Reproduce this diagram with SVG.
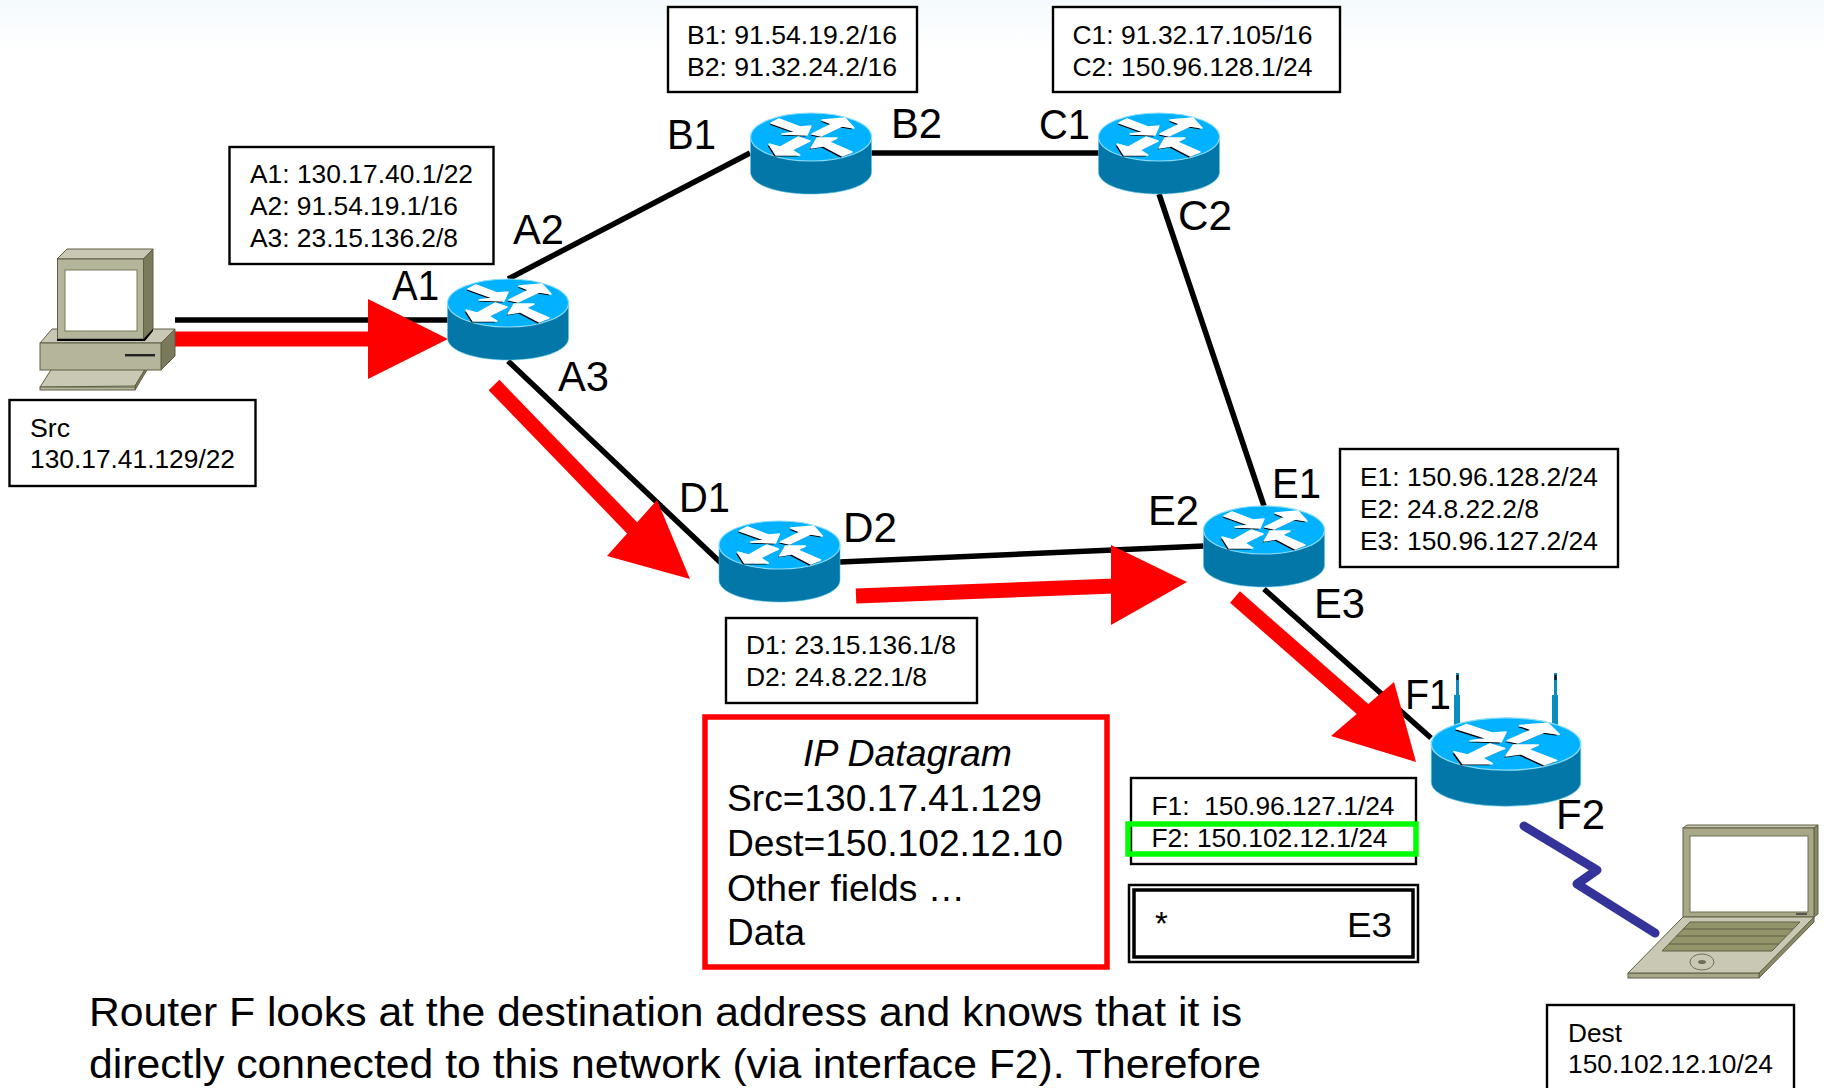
<svg xmlns="http://www.w3.org/2000/svg" xmlns:xlink="http://www.w3.org/1999/xlink" width="1824" height="1088" viewBox="0 0 1824 1088">
<style>
text{font-family:"Liberation Sans",Arial,sans-serif;fill:#000;white-space:pre}
.t{font-size:25.500px}
.p{font-size:42px}
.d{font-size:37px}
.b{font-size:41px}
.box{fill:#fff;stroke:#000;stroke-width:2.400}
.lnk{stroke:#000;stroke-width:5.500;fill:none}
.red{stroke:#f00;stroke-width:15;fill:none}
.hd{fill:#f00}
.tan{stroke:#5f5f45;stroke-width:1}
.aw{stroke:#fff;stroke-width:1.400;stroke-linejoin:round}
</style>
<defs>
<linearGradient id="bg" x1="0" y1="0" x2="0" y2="1"><stop offset="0" stop-color="#f4fafd"/><stop offset="1" stop-color="#fff"/></linearGradient>
<g id="arrows">
<polygon points="-40,-14 -32,-18 -11,-10 0,-11 -4,-2 -29,-3 -15,-5"/>
<polygon points="1,-3 21,-13 11,-17 34,-19 43,-9 31,-11 10,-1"/>
<polygon points="-13,0 -1,4 -19,13 -11,18 -35,18 -42,7 -31,10"/>
<polygon points="0,11 6,1 26,1 18,5 41,15 31,19 12,9"/>
</g>
<g id="router">
<path d="M-60.500 0V35C-60.500 48 -33 57 0 57S60.500 48 60.500 35V0Z" fill="#0277a8" stroke="#5cc4ea" stroke-width=".6"/>
<ellipse rx="60.500" ry="24" fill="#00b2ff" stroke="#8adcf8" stroke-width="1.200"/>
<use href="#arrows" x="-1.500" y="1.500" fill="#000"/>
<use href="#arrows" class="aw" fill="#fff"/>
</g>
</defs>
<rect width="1824" height="1088" fill="#fff"/>
<rect width="1824" height="50" fill="url(#bg)"/>

<g id="connectors">
<line class="lnk" x1="175" y1="320" x2="448" y2="320"/>
<line class="lnk" x1="508" y1="279" x2="750" y2="153"/>
<line class="lnk" x1="870" y1="153" x2="1099" y2="153"/>
<line class="lnk" x1="1159" y1="194" x2="1264" y2="506"/>
<line class="lnk" x1="508" y1="361" x2="721" y2="563"/>
<line class="lnk" x1="840" y1="562" x2="1204" y2="546"/>
<line class="lnk" x1="1264" y1="589" x2="1431" y2="738"/>
<polyline points="1524,826 1597,870 1577,884 1655,933" fill="none" stroke="#333399" stroke-width="9" stroke-linecap="round" stroke-linejoin="round"/>
<line class="red" x1="175" y1="339" x2="370" y2="339"/>
<polygon class="hd" points="368,299 448,339 368,379"/>
<line class="red" x1="494" y1="385" x2="640" y2="536"/>
<polygon class="hd" points="607,556 657,500 690,579"/>
<line class="red" x1="856" y1="596" x2="1115" y2="586"/>
<polygon class="hd" points="1111,545 1187,582 1111,625"/>
<line class="red" x1="1235" y1="597" x2="1366" y2="712"/>
<polygon class="hd" points="1331,736 1394,682 1416,762"/>
</g>

<g id="router-a"><use href="#router" x="508" y="303"/></g>
<g id="router-b"><use href="#router" x="811" y="137"/></g>
<g id="router-c"><use href="#router" x="1159" y="137"/></g>
<g id="router-d"><use href="#router" x="779.500" y="545"/></g>
<g id="router-e"><use href="#router" x="1264" y="530"/></g>
<g id="router-f">
<g fill="#0a8cc0">
<rect x="1454" y="695" width="6" height="30"/><rect x="1456" y="673" width="3" height="22"/>
<rect x="1552" y="695" width="6" height="30"/><rect x="1554" y="673" width="3" height="22"/>
</g>
<rect x="1456.500" y="675" width="2" height="5" fill="#000"/><rect x="1554.500" y="675" width="2" height="5" fill="#000"/>
<g transform="translate(1506 744) scale(1.235 1.09)"><use href="#router"/></g>
</g>

<g id="src-pc">
<polygon class="tan" points="40,387 53.500,366 147,366 135,386" fill="#c8c8b4"/>
<polygon class="tan" points="135,386 147,366 147,370 135,390" fill="#7b7b5c"/>
<rect class="tan" x="40" y="387" width="95" height="3" fill="#b5b59b"/>
<polygon class="tan" points="40,343 52,329 175,329 161,343" fill="#c8c8b4"/>
<polygon class="tan" points="161,343 175,329 175,356 161,370" fill="#7b7b5c"/>
<rect class="tan" x="40" y="343" width="121" height="27" fill="#b5b59b"/>
<rect x="125" y="354" width="30" height="2.400" fill="#222"/>
<polygon class="tan" points="57,259 67,249 153,249 143.500,259" fill="#c8c8b4"/>
<polygon class="tan" points="143.500,259 153,249 153,329 143.500,339" fill="#7b7b5c"/>
<rect class="tan" x="57.500" y="259" width="86" height="80" fill="#b5b59b"/>
<rect x="65" y="270" width="72" height="61" fill="#fff" stroke="#7b7b5c"/>
<polygon points="57,339 143.500,339 153,329 153,331 145,341 57,341" fill="#000"/>
</g>

<g id="dest-laptop">
<polygon class="tan" points="1683,828 1687,825 1818,825 1814,828" fill="#c8c8b4"/>
<polygon class="tan" points="1814,828 1818,825 1818,914 1814,917" fill="#8a8a68"/>
<rect class="tan" x="1683" y="828" width="131" height="89" fill="#a8a888"/>
<rect x="1690" y="836" width="118" height="76" fill="#fff" stroke="#6f6f55"/>
<rect x="1796" y="913" width="11" height="2" fill="#555"/>
<polygon class="tan" points="1814,917 1814,922 1759,978 1759,973" fill="#8a8a68"/>
<rect class="tan" x="1628" y="973" width="131" height="5" fill="#a8a888"/>
<polygon class="tan" points="1683,917 1814,917 1759,973 1628,973" fill="#c8c8b4"/>
<polygon class="tan" points="1690,922 1800,922 1772,951 1662,951" fill="#94946a"/>
<path class="tan" d="M1683,929H1793M1676,936H1786M1669,944H1779" fill="none"/>
<ellipse cx="1702" cy="962" rx="12" ry="8" fill="none" stroke="#6f6f55"/>
<ellipse cx="1702" cy="962" rx="4" ry="2" fill="#6f6f55"/>
</g>

<g id="box-src"><rect class="box" x="9.500" y="400" width="246" height="86"/>
<text class="t" x="30" y="437" textLength="40" lengthAdjust="spacingAndGlyphs">Src</text>
<text class="t" x="30" y="468" textLength="205" lengthAdjust="spacingAndGlyphs">130.17.41.129/22</text></g>
<g id="box-a"><rect class="box" x="229.500" y="147" width="264" height="117"/>
<text class="t" x="250" y="183" textLength="223" lengthAdjust="spacingAndGlyphs">A1: 130.17.40.1/22</text>
<text class="t" x="250" y="215" textLength="208" lengthAdjust="spacingAndGlyphs">A2: 91.54.19.1/16</text>
<text class="t" x="250" y="247" textLength="208" lengthAdjust="spacingAndGlyphs">A3: 23.15.136.2/8</text></g>
<g id="box-b"><rect class="box" x="668" y="7" width="249" height="85"/>
<text class="t" x="687" y="44" textLength="210" lengthAdjust="spacingAndGlyphs">B1: 91.54.19.2/16</text>
<text class="t" x="687" y="76" textLength="210" lengthAdjust="spacingAndGlyphs">B2: 91.32.24.2/16</text></g>
<g id="box-c"><rect class="box" x="1053" y="7" width="287" height="85"/>
<text class="t" x="1072.500" y="44" textLength="240" lengthAdjust="spacingAndGlyphs">C1: 91.32.17.105/16</text>
<text class="t" x="1072.500" y="76" textLength="240" lengthAdjust="spacingAndGlyphs">C2: 150.96.128.1/24</text></g>
<g id="box-d"><rect class="box" x="726" y="618" width="251" height="85"/>
<text class="t" x="746" y="654" textLength="210" lengthAdjust="spacingAndGlyphs">D1: 23.15.136.1/8</text>
<text class="t" x="746" y="686" textLength="181" lengthAdjust="spacingAndGlyphs">D2: 24.8.22.1/8</text></g>
<g id="box-e"><rect class="box" x="1340" y="449" width="278" height="118"/>
<text class="t" x="1360" y="486" textLength="238" lengthAdjust="spacingAndGlyphs">E1: 150.96.128.2/24</text>
<text class="t" x="1360" y="518" textLength="179" lengthAdjust="spacingAndGlyphs">E2: 24.8.22.2/8</text>
<text class="t" x="1360" y="550" textLength="238" lengthAdjust="spacingAndGlyphs">E3: 150.96.127.2/24</text></g>
<g id="box-f"><rect class="box" x="1131" y="778" width="285" height="86"/>
<text class="t" x="1151.500" y="815" textLength="243" lengthAdjust="spacingAndGlyphs">F1:  150.96.127.1/24</text>
<text class="t" x="1151.500" y="847" textLength="236" lengthAdjust="spacingAndGlyphs">F2: 150.102.12.1/24</text>
<rect x="1128" y="824" width="288" height="30" fill="none" stroke="#0f0" stroke-width="5.500"/></g>
<g id="box-route"><rect x="1129" y="885" width="289" height="77" fill="#fff" stroke="#000" stroke-width="2.500"/>
<rect x="1134" y="890" width="279" height="67" fill="#fff" stroke="#000" stroke-width="3.500"/>
<text x="1155" y="935" font-size="33">*</text>
<text x="1347" y="937" font-size="35" textLength="45" lengthAdjust="spacingAndGlyphs">E3</text></g>
<g id="box-dest"><rect class="box" x="1547" y="1005" width="247" height="100"/>
<text class="t" x="1568" y="1042" textLength="54" lengthAdjust="spacingAndGlyphs">Dest</text>
<text class="t" x="1568" y="1073" textLength="205" lengthAdjust="spacingAndGlyphs">150.102.12.10/24</text></g>

<g id="datagram"><rect x="705" y="717" width="402" height="250" fill="#fff" stroke="#f00" stroke-width="5.500"/>
<text class="d" x="803" y="766" font-style="italic" textLength="209" lengthAdjust="spacingAndGlyphs">IP Datagram</text>
<text class="d" x="727" y="811" textLength="315" lengthAdjust="spacingAndGlyphs">Src=130.17.41.129</text>
<text class="d" x="727" y="856" textLength="336" lengthAdjust="spacingAndGlyphs">Dest=150.102.12.10</text>
<text class="d" x="727" y="901" textLength="238" lengthAdjust="spacingAndGlyphs">Other fields …</text>
<text class="d" x="727" y="945" textLength="78" lengthAdjust="spacingAndGlyphs">Data</text></g>

<g id="port-labels">
<text class="p" x="392" y="300" textLength="47" lengthAdjust="spacingAndGlyphs">A1</text>
<text class="p" x="513" y="244" textLength="51" lengthAdjust="spacingAndGlyphs">A2</text>
<text class="p" x="558" y="391" textLength="51" lengthAdjust="spacingAndGlyphs">A3</text>
<text class="p" x="667" y="149" textLength="49" lengthAdjust="spacingAndGlyphs">B1</text>
<text class="p" x="891" y="138" textLength="51" lengthAdjust="spacingAndGlyphs">B2</text>
<text class="p" x="1039" y="139" textLength="51" lengthAdjust="spacingAndGlyphs">C1</text>
<text class="p" x="1178" y="230" textLength="54" lengthAdjust="spacingAndGlyphs">C2</text>
<text class="p" x="679" y="512" textLength="51" lengthAdjust="spacingAndGlyphs">D1</text>
<text class="p" x="843" y="542" textLength="54" lengthAdjust="spacingAndGlyphs">D2</text>
<text class="p" x="1272" y="498" textLength="49" lengthAdjust="spacingAndGlyphs">E1</text>
<text class="p" x="1148" y="525" textLength="51" lengthAdjust="spacingAndGlyphs">E2</text>
<text class="p" x="1314" y="618" textLength="51" lengthAdjust="spacingAndGlyphs">E3</text>
<text class="p" x="1405" y="709" textLength="46" lengthAdjust="spacingAndGlyphs">F1</text>
<text class="p" x="1556" y="829" textLength="49" lengthAdjust="spacingAndGlyphs">F2</text>
</g>

<g id="caption">
<text class="b" x="89" y="1026" textLength="1153" lengthAdjust="spacingAndGlyphs">Router F looks at the destination address and knows that it is</text>
<text class="b" x="89" y="1078" textLength="1172" lengthAdjust="spacingAndGlyphs">directly connected to this network (via interface F2). Therefore</text>
</g>
</svg>
